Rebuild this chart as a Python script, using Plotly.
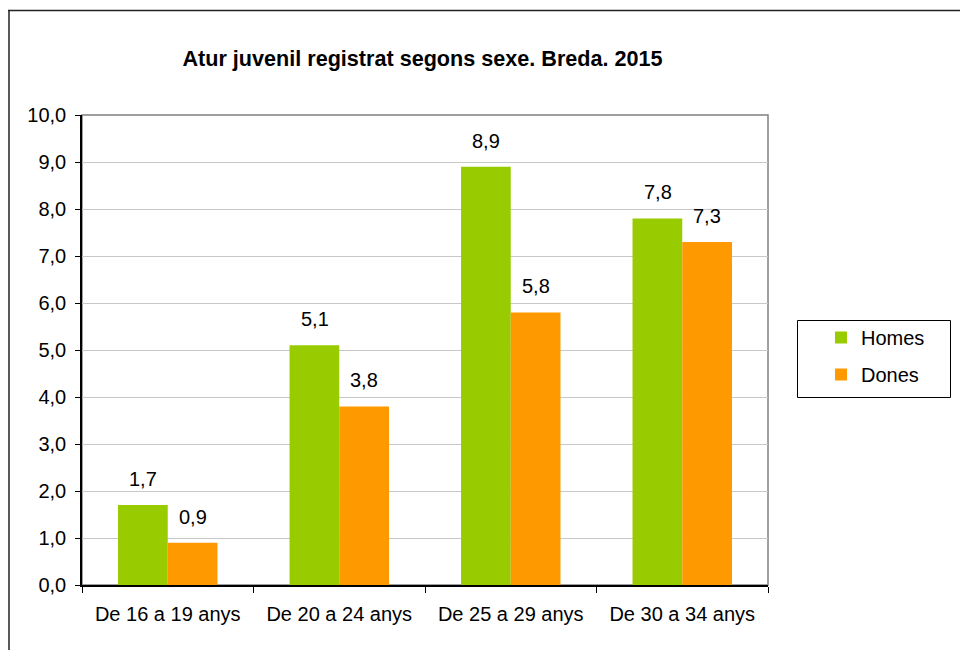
import plotly.graph_objects as go

categories = ["De 16 a 19 anys", "De 20 a 24 anys", "De 25 a 29 anys", "De 30 a 34 anys"]
homes = [1.7, 5.1, 8.9, 7.8]
dones = [0.9, 3.8, 5.8, 7.3]
series_names = ["Homes", "Dones"]
tick_vals = [0, 1, 2, 3, 4, 5, 6, 7, 8, 9, 10]
tick_text = ["0,0", "1,0", "2,0", "3,0", "4,0", "5,0", "6,0", "7,0", "8,0", "9,0", "10,0"]
title = "Atur juvenil registrat segons sexe. Breda. 2015"

# page is rendered with an 8px body margin, so the figure is 8px smaller
OFF = 8
W, H = 968 - OFF, 650 - OFF
L, T = 82 - OFF, 115 - OFF
R = W - (768 - OFF)
B = H - (585 - OFF)
pw, ph = W - L - R, H - T - B

GREEN = "#99cc00"
ORANGE = "#ff9900"
FONT = "Liberation Sans, Arial, sans-serif"

fig = go.Figure()
fig.add_trace(go.Bar(x=categories, y=homes, name=series_names[0], legendgroup="h",
                     marker=dict(color=GREEN, line=dict(width=0))))
fig.add_trace(go.Bar(x=categories, y=dones, name=series_names[1], legendgroup="d",
                     marker=dict(color=ORANGE, line=dict(width=0))))

annotations = []
for vals, sh in ((homes, -24.75), (dones, 24.75)):
    for c, v in zip(categories, vals):
        annotations.append(dict(x=c, y=v, xref="x", yref="y", text=f"{v:.1f}".replace(".", ","),
                                showarrow=False, xshift=sh, yshift=13, yanchor="bottom",
                                font=dict(size=20, color="black", family=FONT)))

def px_x(p):
    return (p - OFF - L) / pw

def px_y(p):
    return (H - B - (p - OFF)) / ph

shapes = [
    dict(type="rect", xref="paper", yref="paper", x0=0, x1=1, y0=0, y1=1,
         line=dict(color="#808080", width=1.5), layer="below"),
    dict(type="line", xref="paper", yref="paper", x0=px_x(8), x1=px_x(1000), y0=px_y(10.5), y1=px_y(10.5),
         line=dict(color="#222222", width=1.5)),
    dict(type="line", xref="paper", yref="paper", x0=px_x(9), x1=px_x(9), y0=px_y(10), y1=px_y(700),
         line=dict(color="#222222", width=1.5)),
    # legend frame
    dict(type="rect", xref="paper", yref="paper", x0=px_x(797.5), x1=px_x(950.5), y0=px_y(397.5), y1=px_y(320.5),
         line=dict(color="black", width=1), fillcolor="white", layer="below"),
]

fig.update_layout(
    width=W, height=H,
    margin=dict(l=L, r=R, t=T, b=B),
    paper_bgcolor="white", plot_bgcolor="white",
    barmode="group", bargap=0.42, bargroupgap=0,
    font=dict(family=FONT, size=20, color="black"),
    title=dict(text="<b>" + title + "</b>", x=px_x(422.5), xref="paper", xanchor="center",
               y=1 - (58 - OFF) / H, yref="container", yanchor="middle",
               font=dict(size=21.6, family=FONT, color="black")),
    xaxis=dict(showgrid=False, showline=True, linecolor="black", linewidth=1.5,
               ticks="outside", tickson="boundaries", ticklen=6, tickcolor="black",
               tickfont=dict(size=20), zeroline=False, ticklabelstandoff=10),
    yaxis=dict(range=[0, 10], tickvals=tick_vals, ticktext=tick_text,
               showgrid=True, gridcolor="#c8c8c8", gridwidth=1,
               showline=True, linecolor="black", linewidth=1.5,
               ticks="outside", ticklen=5, tickcolor="black",
               tickfont=dict(size=20), zeroline=False, ticklabelstandoff=5),
    legend=dict(x=px_x(797 + 24), y=px_y(318), xanchor="left", yanchor="top",
                borderwidth=0, bgcolor="rgba(0,0,0,0)",
                font=dict(size=20), tracegroupgap=8, itemwidth=30),
    annotations=annotations,
    shapes=shapes,
)

fig.write_html("out.html")
